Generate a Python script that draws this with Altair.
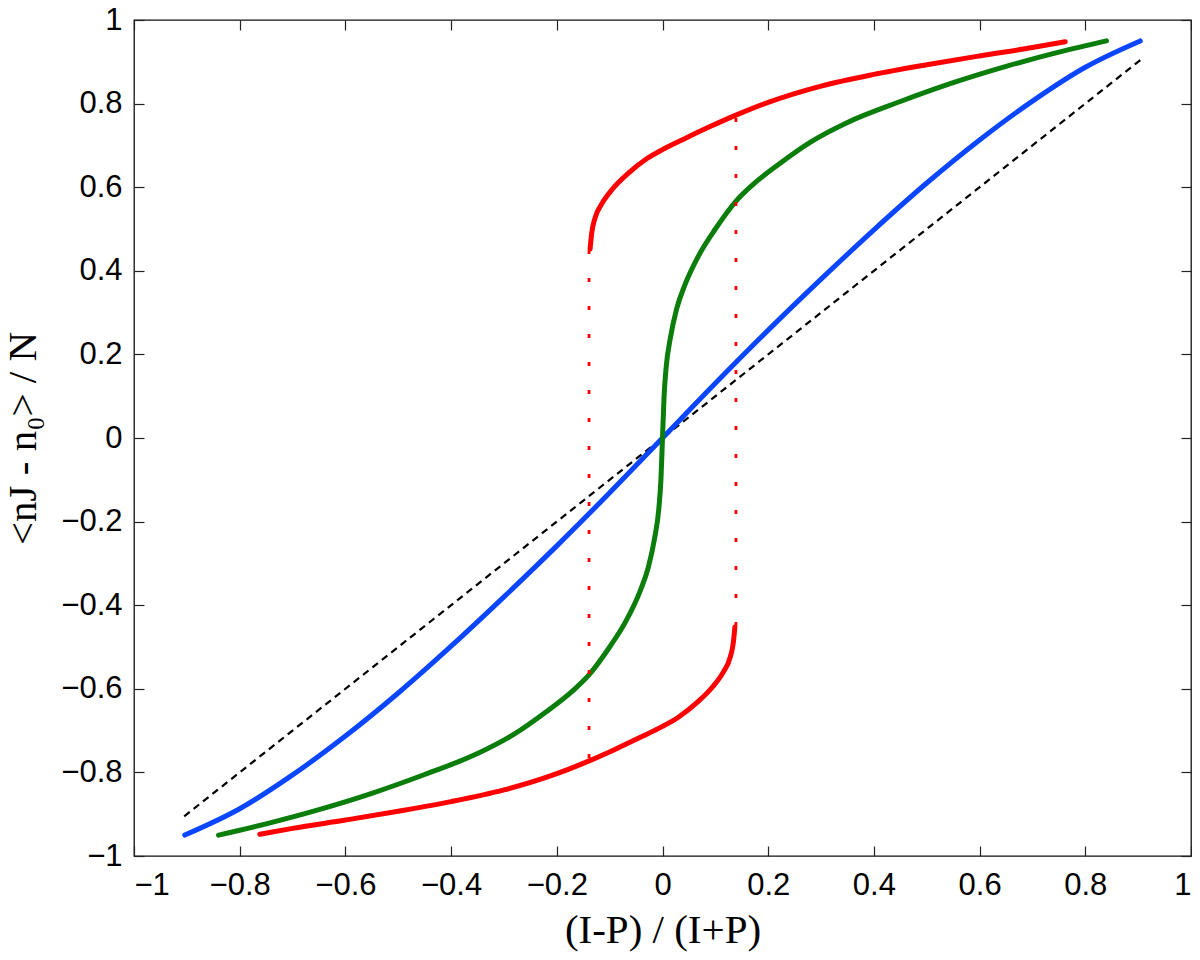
import altair as alt
import pandas as pd

# ---- data ----
tick_vals = [-1, -0.8, -0.6, -0.4, -0.2, 0, 0.2, 0.4, 0.6, 0.8, 1]

diag_x = [-0.905, 0.905]
diag_y = [-0.905, 0.905]

blue_x = [-0.904, -0.8, -0.7, -0.6, -0.5, -0.4, -0.3, -0.2, -0.1, 0.0,
          0.1, 0.2, 0.3, 0.4, 0.5, 0.6, 0.7, 0.8, 0.904]
blue_y = [-0.950, -0.887, -0.806, -0.713, -0.610, -0.498, -0.380, -0.258, -0.131, 0.0,
          0.131, 0.258, 0.380, 0.498, 0.610, 0.713, 0.806, 0.887, 0.950]

green_x = [-0.84, -0.75, -0.65, -0.55, -0.45, -0.35, -0.28, -0.22, -0.17, -0.14, -0.1, -0.07, -0.042, -0.027, -0.015, -0.007, -0.003,
           0.0, 0.003, 0.007, 0.015, 0.027, 0.042, 0.07, 0.1, 0.14, 0.17, 0.22, 0.28, 0.35, 0.45, 0.55, 0.65, 0.75, 0.84]
green_y = [-0.950, -0.923, -0.889, -0.850, -0.805, -0.755, -0.708, -0.655, -0.605, -0.568, -0.50, -0.44, -0.365, -0.31, -0.24, -0.17, -0.10,
           0.0, 0.10, 0.17, 0.24, 0.31, 0.365, 0.44, 0.50, 0.568, 0.605, 0.655, 0.708, 0.755, 0.805, 0.850, 0.889, 0.923, 0.950]

red_up_x = [-0.137, -0.134, -0.128, -0.115, -0.095, -0.065, -0.03, 0.0, 0.04, 0.09, 0.14, 0.2, 0.3, 0.4, 0.5, 0.6, 0.7, 0.762]
red_up_y = [0.452, 0.49, 0.525, 0.56, 0.595, 0.633, 0.668, 0.69, 0.715, 0.745, 0.773, 0.803, 0.842, 0.870, 0.893, 0.914, 0.934, 0.948]

red_lo_x = [-0.762, -0.7, -0.6, -0.5, -0.4, -0.3, -0.2, -0.14, -0.09, -0.04, 0.0, 0.03, 0.065, 0.095, 0.115, 0.128, 0.134, 0.137]
red_lo_y = [-0.948, -0.934, -0.914, -0.893, -0.870, -0.842, -0.803, -0.773, -0.745, -0.715, -0.69, -0.668, -0.633, -0.595, -0.56, -0.525, -0.49, -0.452]

dot_left_x = [-0.139, -0.139]
dot_left_y = [0.45, -0.775]
dot_right_x = [0.139, 0.139]
dot_right_y = [-0.45, 0.775]


def frame(xs, ys, seg):
    return pd.DataFrame({"x": xs, "y": ys, "i": list(range(len(xs))), "seg": seg})


df_diag = frame(diag_x, diag_y, "d")
df_blue = frame(blue_x, blue_y, "b")
df_green = frame(green_x, green_y, "g")
df_red = pd.concat([frame(red_up_x, red_up_y, "up"), frame(red_lo_x, red_lo_y, "lo")])
df_dot = pd.concat([frame(dot_left_x, dot_left_y, "l"), frame(dot_right_x, dot_right_y, "r")])

xs = alt.Scale(domain=[-1, 1], nice=False, zero=False)
ys = alt.Scale(domain=[-1, 1], nice=False, zero=False)

ax_bottom = alt.Axis(orient="bottom", values=tick_vals, format=".1~f", offset=-10,
                     labelPadding=14, titlePadding=10)
ax_left = alt.Axis(orient="left", values=tick_vals, format=".1~f", offset=-10,
                   labelPadding=12, titlePadding=16)
ax_top = alt.Axis(orient="top", values=tick_vals, labels=False, offset=-10, title="")
ax_right = alt.Axis(orient="right", values=tick_vals, labels=False, offset=-10, title="")

diag = alt.Chart(df_diag).mark_line(color="black", strokeDash=[7, 5], strokeWidth=2.2).encode(
    x=alt.X("x:Q", scale=xs, axis=ax_bottom, title="(I-P) / (I+P)"),
    y=alt.Y("y:Q", scale=ys, axis=ax_left, title="<nJ - n₀> / N"),
    order="i:Q",
)

blue = alt.Chart(df_blue).mark_line(color="#0a46ff", strokeWidth=5, strokeCap="round",
                                    interpolate="monotone").encode(
    x=alt.X("x:Q", scale=xs, axis=ax_top),
    y=alt.Y("y:Q", scale=ys, axis=ax_right),
    order="i:Q",
)

green = alt.Chart(df_green).mark_line(color="#0a7d0a", strokeWidth=5, strokeCap="round",
                                      interpolate="monotone").encode(
    x=alt.X("x:Q", scale=xs, axis=None),
    y=alt.Y("y:Q", scale=ys, axis=None),
    order="i:Q",
)

red = alt.Chart(df_red).mark_line(color="#ff0000", strokeWidth=5, strokeCap="round",
                                  interpolate="monotone").encode(
    x=alt.X("x:Q", scale=xs, axis=None),
    y=alt.Y("y:Q", scale=ys, axis=None),
    detail="seg:N",
    order="i:Q",
)

dots = alt.Chart(df_dot).mark_line(color="#ff0000", strokeDash=[4, 24], strokeWidth=2.8).encode(
    x=alt.X("x:Q", scale=xs, axis=None),
    y=alt.Y("y:Q", scale=ys, axis=None),
    detail="seg:N",
    order="i:Q",
)

chart = alt.layer(diag, blue, green, red, dots).resolve_axis(
    x="independent", y="independent"
).properties(
    width=1057,
    height=836,
    autosize=alt.AutoSizeParams(type="none"),
    padding={"left": 126, "top": 12, "right": 1, "bottom": 96},
).configure_view(
    stroke="#111111", strokeWidth=1.3
).configure_axis(
    grid=False,
    domain=False,
    tickSize=10,
    tickColor="#222222",
    tickWidth=1.2,
    labelFont="Liberation Sans",
    labelFontSize=31,
    labelColor="black",
    titleFont="Liberation Serif",
    titleFontSize=41,
    titleFontWeight="normal",
    titleColor="black",
)

chart.save("out.html", embed_options={"renderer": "svg", "actions": False})
